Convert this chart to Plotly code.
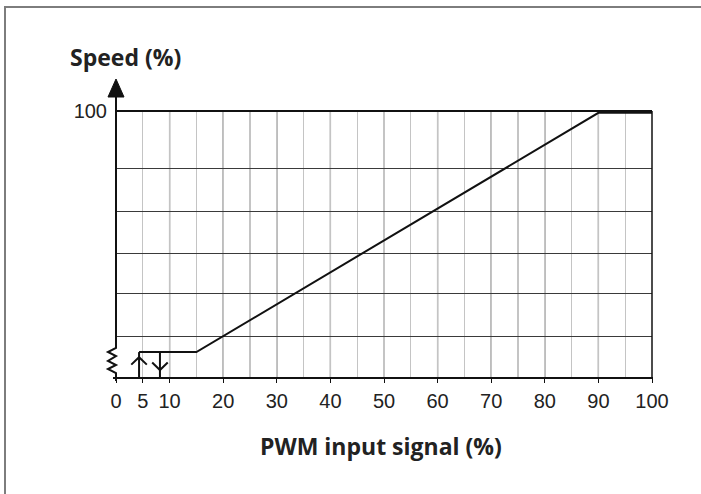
import plotly.graph_objects as go

# ---------------- data ----------------
pwm_pct = [4.3, 15, 90, 100]          # PWM input signal (%)
speed_pct = [9.7, 9.7, 99.3, 99.3]    # Speed (%)
x_tick_vals = [0, 5, 10, 20, 30, 40, 50, 60, 70, 80, 90, 100]
x_tick_text = [str(v) for v in x_tick_vals]
x_major_grid = [10, 20, 30, 40, 50, 60, 70, 80, 90]
y_grid_vals = [15.4, 31.5, 46.8, 62.5, 78.3, 100]
y_tick_text = ["", "", "", "", "", "100"]
hyst_on = 4.3      # start threshold (up arrow)
hyst_off = 8.2     # stop threshold (down arrow)
min_speed = 9.7

# ---------------- layout geometry ----------------
W, H = 701, 494
L, R, T, B = 116, 49, 111, 116
PW, PH = W - L - R, H - T - B


def px(x):
    return (x - L) / PW


def py(y):
    return (H - B - y) / PH


fig = go.Figure()

# main speed curve
fig.add_trace(go.Scatter(x=pwm_pct, y=speed_pct, mode="lines",
                         line=dict(color="#111", width=2), hoverinfo="skip"))

# hysteresis arrows (vertical lines + chevrons, chevron sizes in data units)
cw, ch = 1.45, 2.8
up_tip, down_tip = 7.8, 3.0
arrow_x = [hyst_on, hyst_on, None, hyst_on - cw, hyst_on, hyst_on + cw, None,
           hyst_off, hyst_off, None, hyst_off - cw, hyst_off, hyst_off + cw]
arrow_y = [0, min_speed, None, up_tip - ch, up_tip, up_tip - ch, None,
           0, min_speed, None, down_tip + ch, down_tip, down_tip + ch]
fig.add_trace(go.Scatter(x=arrow_x, y=arrow_y, mode="lines",
                         line=dict(color="#111", width=2), hoverinfo="skip"))

shapes = []
# dark vertical gridlines at tens
for v in x_major_grid:
    shapes.append(dict(type="line", xref="x", yref="paper", x0=v, x1=v, y0=0, y1=1,
                       line=dict(color="#6e6e6e", width=1.3), layer="below"))
# top line, right border, x axis line
shapes.append(dict(type="line", xref="paper", yref="paper", x0=px(116), x1=px(652),
                   y0=1, y1=1, line=dict(color="#111", width=2)))
shapes.append(dict(type="line", xref="paper", yref="paper", x0=1, x1=1,
                   y0=0, y1=1, line=dict(color="#111", width=1.5)))
shapes.append(dict(type="line", xref="paper", yref="paper", x0=px(113), x1=px(653),
                   y0=0, y1=0, line=dict(color="#111", width=2)))
# y axis line with break zigzag
zig = [(116, 96), (116, 348), (108, 352), (116, 356), (108, 361), (116, 365),
       (108, 369), (116, 373), (116, 381)]
path = "M " + " L ".join(f"{px(a):.5f},{py(b):.5f}" for a, b in zig)
shapes.append(dict(type="path", xref="paper", yref="paper", path=path,
                   line=dict(color="#111", width=2)))
# arrow head on y axis
tri = [(108, 97), (124, 97), (116, 79)]
path = "M " + " L ".join(f"{px(a):.5f},{py(b):.5f}" for a, b in tri) + " Z"
shapes.append(dict(type="path", xref="paper", yref="paper", path=path,
                   fillcolor="#111", line=dict(color="#111", width=1)))
# outer frame (top and left edges)
shapes.append(dict(type="line", xref="paper", yref="paper", x0=px(4), x1=px(705),
                   y0=py(7), y1=py(7), line=dict(color="#7d7d7d", width=2)))
shapes.append(dict(type="line", xref="paper", yref="paper", x0=px(5), x1=px(5),
                   y0=py(6), y1=py(500), line=dict(color="#7d7d7d", width=2)))

annotations = [
    dict(text="<b>Speed (%)</b>", x=px(125), y=py(57), xref="paper", yref="paper",
         showarrow=False, xanchor="center", yanchor="middle",
         font=dict(family="Open Sans", size=23, color="#222")),
    dict(text="<b>PWM input signal (%)</b>", x=px(381), y=py(446), xref="paper",
         yref="paper", showarrow=False, xanchor="center", yanchor="middle",
         font=dict(family="Open Sans", size=23, color="#222")),
]

fig.update_layout(
    width=W, height=H,
    margin=dict(l=L, r=R, t=T, b=B, pad=0),
    paper_bgcolor="white", plot_bgcolor="white",
    showlegend=False,
    shapes=shapes,
    annotations=annotations,
    font=dict(family="Liberation Sans, Arial", size=20, color="#222"),
    xaxis=dict(range=[0, 100], tickmode="array", tickvals=x_tick_vals,
               ticktext=x_tick_text, showgrid=False, zeroline=False,
               showline=False, ticks="outside", ticklen=4, tickcolor="#111",
               tickwidth=1, ticklabelstandoff=1,
               minor=dict(tick0=0, dtick=5, showgrid=True, gridcolor="#c4c4c4",
                          gridwidth=1.3, ticks="")),
    yaxis=dict(range=[0, 100], tickmode="array", tickvals=y_grid_vals,
               ticktext=y_tick_text, showgrid=True, gridcolor="#3a3a3a",
               gridwidth=1, zeroline=False, showline=False, ticks="",
               ticklabelstandoff=8),
)

fig.write_html("out.html",
               config={"displayModeBar": False, "staticPlot": True},
               post_script="document.body.style.margin='0px';"
                           "document.body.style.overflow='hidden';")
